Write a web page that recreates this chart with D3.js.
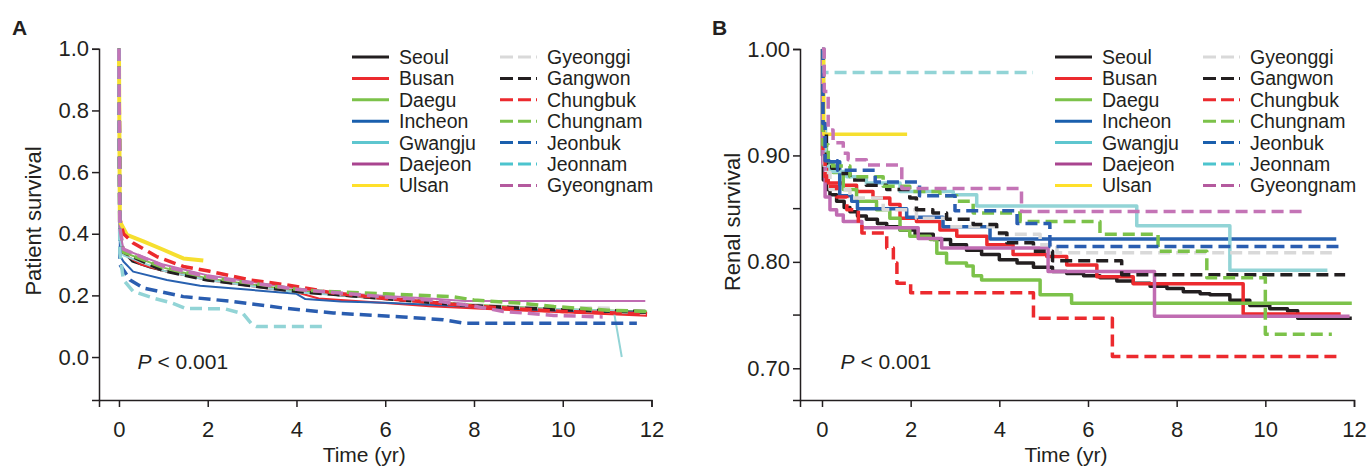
<!DOCTYPE html>
<html><head><meta charset="utf-8">
<script src="https://cdn.jsdelivr.net/npm/d3@7"></script>
<style>
body{margin:0;background:#fff;}
text{font-family:"Liberation Sans",Arial,sans-serif;fill:#231f20;}
</style></head>
<body>
<svg id="chart" width="1370" height="468"></svg>
<script>
// ---------- data ----------
const regions = ["Seoul","Busan","Daegu","Incheon","Gwangju","Daejeon","Ulsan",
                 "Gyeonggi","Gangwon","Chungbuk","Chungnam","Jeonbuk","Jeonnam","Gyeongnam"];
const xTicks = [0,2,4,6,8,10,12];
const yTicksA = [0,0.2,0.4,0.6,0.8,1.0];
const yTicksB = [0.70,0.80,0.90,1.00];
const yMinorB = [0.75,0.85];
const pLabel = "< 0.001";

// Panel A: patient survival [years, survival]
const pSeoul = [[0,1],[0.02,0.40],[0.1,0.34],[0.3,0.31],[0.7,0.29],[1,0.28],[2,0.252],[3,0.232],[4,0.215],[5,0.2],[6,0.188],[7,0.177],[8,0.167],[9,0.159],[10,0.152],[11,0.146],[11.9,0.143]];
const pBusan = [[0,1],[0.02,0.38],[0.1,0.335],[0.5,0.3],[1,0.28],[2,0.25],[3,0.23],[4,0.21],[4.5,0.19],[6,0.175],[7,0.165],[8.3,0.156],[10,0.145],[11.9,0.134]];
const pDaegu = [[0,1],[0.02,0.40],[0.1,0.34],[1,0.29],[2,0.255],[4,0.215],[6,0.19],[8,0.17],[10,0.155],[11.9,0.148]];
const pIncheon = [[0,1],[0.02,0.33],[0.1,0.31],[0.32,0.277],[1.08,0.25],[1.83,0.231],[2.95,0.218],[4,0.205],[4.2,0.188],[5,0.18],[6,0.176],[7,0.17],[8,0.163],[9,0.156],[10,0.15],[11.7,0.147]];
const pGwangju = [[0,1],[0.02,0.38],[0.1,0.33],[1,0.28],[2,0.25],[4,0.21],[6,0.19],[8,0.165],[10,0.155],[11.15,0.15],[11.33,0.0]];
const pDaejeon = [[0,1],[0.02,0.41],[0.1,0.35],[1,0.30],[2,0.265],[4,0.222],[5,0.207],[6,0.198],[7,0.19],[7.8,0.182],[11.86,0.182]];
const pUlsan = [[0,1],[0.02,0.44],[0.18,0.396],[0.55,0.375],[1,0.348],[1.45,0.32],[1.9,0.313]];
const pGyeonggi = [[0,1],[0.02,0.40],[0.1,0.34],[1,0.285],[2,0.255],[4,0.215],[6,0.19],[8,0.17],[9,0.162],[10,0.16],[11.2,0.158]];
const pGangwon = [[0,1],[0.02,0.39],[0.1,0.34],[1,0.28],[2,0.25],[4,0.213],[6,0.19],[8,0.166],[10,0.153],[11.9,0.148]];
const pChungbuk = [[0,1],[0.02,0.45],[0.1,0.40],[0.32,0.37],[0.85,0.326],[1.45,0.294],[2.05,0.278],[2.95,0.25],[3.78,0.234],[4.83,0.208],[6,0.19],[8,0.165],[10,0.148],[11.9,0.14]];
const pChungnam = [[0,1],[0.02,0.40],[0.1,0.34],[1,0.29],[2,0.258],[4,0.22],[4.5,0.214],[6,0.205],[7.5,0.196],[8,0.185],[9,0.175],[9.8,0.164],[11,0.152],[11.9,0.148]];
const pJeonbuk = [[0,1],[0.02,0.30],[0.25,0.25],[0.55,0.224],[1.45,0.196],[2.58,0.18],[3.7,0.159],[4.83,0.143],[5.28,0.139],[6.4,0.13],[7.3,0.121],[7.76,0.11],[11.67,0.11]];
const pJeonnam = [[0,1],[0.02,0.337],[0.1,0.25],[0.32,0.213],[0.8,0.19],[1.2,0.175],[1.5,0.158],[2.4,0.156],[2.8,0.14],[3.0,0.105],[3.1,0.099],[4.65,0.099]];
const pGyeongnam = [[0,1],[0.02,0.42],[0.1,0.35],[1,0.295],[2,0.26],[4,0.22],[6,0.195],[7,0.185],[8,0.165],[8.66,0.148],[9.8,0.135],[10.9,0.13]];

// Panel B: renal survival [years, survival] (steps)
const rSeoul = [[0,1],[0.01,0.9],[0.03,0.877],[0.1,0.868],[0.18,0.863],[0.33,0.857],[0.5,0.851],[0.63,0.847],[0.8,0.843],[1.0,0.840],[1.25,0.836],[1.46,0.833],[1.76,0.830],[2.1,0.826],[2.51,0.821],[2.9,0.816],[3.26,0.811],[3.6,0.807],[4.0,0.802],[4.4,0.799],[4.77,0.795],[5.2,0.791],[5.52,0.789],[5.9,0.787],[6.27,0.785],[6.65,0.782],[7.02,0.780],[7.4,0.777],[7.78,0.775],[8.15,0.772],[8.53,0.770],[8.75,0.769],[9.2,0.764],[9.65,0.759],[10.1,0.756],[10.5,0.754],[10.73,0.747],[11.95,0.747]];
const rBusan = [[0,1],[0.02,0.92],[0.07,0.896],[0.14,0.874],[0.48,0.872],[0.78,0.866],[1.15,0.860],[1.53,0.854],[1.76,0.841],[2.13,0.838],[2.66,0.830],[3.04,0.824],[3.72,0.816],[4.31,0.807],[5.07,0.805],[5.52,0.797],[6.2,0.786],[7.02,0.7795],[9.5,0.751],[11.7,0.751]];
const rDaegu = [[0,1],[0.02,0.91],[0.1,0.893],[0.25,0.884],[0.48,0.868],[0.78,0.857],[1.23,0.849],[1.53,0.841],[1.76,0.830],[1.98,0.824],[2.44,0.821],[2.59,0.808],[2.81,0.799],[3.26,0.796],[3.41,0.787],[3.6,0.783],[4.92,0.769],[5.63,0.761],[11.95,0.761]];
const rIncheon = [[0,1],[0.02,0.92],[0.05,0.894],[0.4,0.862],[0.67,0.857],[0.8,0.85],[1.91,0.842],[2.73,0.833],[3.79,0.8215],[11.6,0.8215]];
const rGwangju = [[0,1],[0.02,0.93],[0.08,0.89],[0.18,0.885],[0.56,0.880],[1.0,0.874],[1.76,0.866],[2.96,0.863],[3.49,0.8526],[7.1,0.834],[9.2,0.792],[11.4,0.792]];
const rDaejeon = [[0,1],[0.02,0.893],[0.07,0.861],[0.18,0.849],[0.33,0.844],[0.48,0.838],[0.9,0.832],[2.17,0.822],[2.7,0.813],[5.1,0.791],[7.5,0.749],[11.9,0.749]];
const rUlsan = [[0,1],[0.04,0.92],[1.92,0.92]];
const rGyeonggi = [[0,1],[0.02,0.9],[0.05,0.884],[0.18,0.868],[0.63,0.860],[1.38,0.849],[2.13,0.841],[2.89,0.833],[4.0,0.826],[4.92,0.816],[5.3,0.8085],[11.5,0.8085]];
const rGangwon = [[0,1],[0.02,0.92],[0.1,0.893],[0.22,0.888],[0.37,0.883],[0.63,0.877],[1.0,0.872],[1.46,0.868],[1.98,0.860],[2.13,0.849],[2.5,0.846],[2.81,0.840],[3.41,0.835],[3.94,0.827],[4.17,0.818],[4.77,0.81],[5.2,0.801],[6.76,0.788],[11.8,0.788]];
const rChungbuk = [[0,1],[0.02,0.9],[0.07,0.88],[0.1,0.871],[0.33,0.861],[0.56,0.849],[0.82,0.836],[0.9,0.827],[1.46,0.813],[1.61,0.799],[1.69,0.780],[2.0,0.771],[4.77,0.747],[6.55,0.711],[11.7,0.711]];
const rChungnam = [[0,1],[0.02,0.91],[0.14,0.890],[0.63,0.880],[1.38,0.871],[1.98,0.866],[2.66,0.862],[3.04,0.857],[3.41,0.846],[4.47,0.838],[6.27,0.826],[7.58,0.81],[8.68,0.785],[10.0,0.732],[11.5,0.732]];
const rJeonbuk = [[0,1],[0.02,0.93],[0.07,0.895],[0.35,0.886],[1.2,0.875],[2.2,0.862],[3.0,0.848],[4.4,0.836],[5.14,0.8144],[11.75,0.8144]];
const rJeonnam = [[0,1],[0.05,0.978],[4.76,0.978]];
const rGyeongnam = [[0,1],[0.05,0.96],[0.14,0.924],[0.25,0.912],[0.48,0.902],[0.59,0.896],[1.0,0.891],[1.8,0.869],[4.5,0.8474],[10.85,0.8474]];

const patientData = [pSeoul,pBusan,pDaegu,pIncheon,pGwangju,pDaejeon,pUlsan,pGyeonggi,pGangwon,pChungbuk,pChungnam,pJeonbuk,pJeonnam,pGyeongnam];
const renalData = [rSeoul,rBusan,rDaegu,rIncheon,rGwangju,rDaejeon,rUlsan,rGyeonggi,rGangwon,rChungbuk,rChungnam,rJeonbuk,rJeonnam,rGyeongnam];

// ---------- styles ----------
const lineColors = ["#231f20","#ec2a2e","#7cc24a","#2861b0","#92d4d6","#c06cb2","#f6df2f",
                    "#d9d9d9","#231f20","#ec2a2e","#7cc24a","#2a5db0","#92d4d6","#c474b6"];
const legendColors = ["#231f20","#ec2a2e","#7cc24a","#1a5fad","#5ec6cf","#a9448f","#ffe02a",
                      "#d9d9d9","#231f20","#ec2a2e","#7cc24a","#1a5fad","#4cc4ce","#b45a9e"];
const dashed = regions.map((_,i)=> i>=7);

const svg = d3.select("#chart");

function panel(cfg){
  const g = svg.append("g");
  const x = d3.scaleLinear().domain(cfg.xDomain).range(cfg.xRange);
  const y = d3.scaleLinear().domain(cfg.yDomain).range(cfg.yRange);

  // axes
  const yAxis = d3.axisLeft(y).tickValues(cfg.yTicks).tickFormat(d3.format(cfg.fmt)).tickSizeOuter(0).tickSize(7).tickPadding(3);
  const ya = g.append("g").attr("transform",`translate(${cfg.xRange[0]},0)`).call(yAxis);
  if(cfg.yMinor){
    ya.selectAll(".minor").data(cfg.yMinor).enter().append("line")
      .attr("x1",0).attr("x2",-7).attr("y1",d=>y(d)).attr("y2",d=>y(d)).attr("stroke","#231f20").attr("stroke-width",1.5);
  }
  const xAxis = d3.axisBottom(x).tickValues(xTicks).tickSizeOuter(0).tickSize(7).tickPadding(14);
  const xa = g.append("g").attr("transform",`translate(0,${cfg.yRange[0]})`).call(xAxis);
  [ya,xa].forEach(a=>{
    a.select(".domain").attr("stroke","#231f20").attr("stroke-width",1.5);
    a.selectAll(".tick line").attr("stroke","#231f20").attr("stroke-width",1.5);
    a.selectAll(".tick text").style("font-size","22px").attr("fill","#231f20");
  });

  // curves
  const line = d3.line().x(d=>x(d[0])).y(d=>y(d[1])).curve(cfg.curve);
  cfg.data.forEach((ds,i)=>{
    g.append("path").datum(ds).attr("d",line).attr("fill","none")
      .attr("stroke",lineColors[i])
      .attr("stroke-width", cfg.widths(i))
      .attr("stroke-dasharray", dashed[i] ? "12,6" : null)
      .attr("stroke-linejoin","round");
  });

  // panel letter
  g.append("text").attr("x",cfg.letterX).attr("y",35).text(cfg.letter)
    .style("font-size","21px").style("font-weight","bold");
  // axis titles
  g.append("text").attr("transform",`translate(${cfg.yTitleX},${cfg.yTitleY}) rotate(-90)`)
    .attr("text-anchor","middle").style("font-size","22px").text(cfg.yTitle);
  g.append("text").attr("x",(cfg.xRange[0]+cfg.xRange[1])/2-11).attr("y",462)
    .attr("text-anchor","middle").style("font-size","21px").text("Time (yr)");
  // p value
  const pt = g.append("text").attr("x",x(cfg.pX)).attr("y",y(cfg.pY)).style("font-size","21px");
  pt.append("tspan").style("font-style","italic").text("P");
  pt.append("tspan").text(" " + pLabel);

  // legend
  const lg = g.append("g");
  regions.forEach((r,i)=>{
    const col = i<7 ? 0 : 1, row = i%7;
    const lx = cfg.legendX + col*148, ly = 57 + row*21.4;
    lg.append("line").attr("x1",lx).attr("x2",lx+37).attr("y1",ly).attr("y2",ly)
      .attr("stroke",legendColors[i]).attr("stroke-width",3)
      .attr("stroke-dasharray", dashed[i] ? "13,5" : null);
    lg.append("text").attr("x",lx+47).attr("y",ly+7).style("font-size",cfg.legendFont).text(r);
  });
}

panel({
  xDomain:[-0.45,12], xRange:[99,651.5],
  yDomain:[-0.1394,1], yRange:[400,48.8],
  yTicks:yTicksA, fmt:".1f", data:patientData, curve:d3.curveLinear,
  widths:i=> i===6 ? 4 : (dashed[i] ? 3.5 : 2),
  letter:"A", letterX:12, yTitle:"Patient survival", yTitleX:41, yTitleY:221,
  pX:0.42, pY:-0.04, legendX:352, legendFont:"19.5px"
});
panel({
  xDomain:[-0.496,12], xRange:[800,1354],
  yDomain:[0.6702,1], yRange:[400,49],
  yTicks:yTicksB, yMinor:yMinorB, fmt:".2f", data:renalData, curve:d3.curveStepAfter,
  widths:i=> 3.5,
  letter:"B", letterX:712, yTitle:"Renal survival", yTitleX:740, yTitleY:222,
  pX:0.42, pY:0.6995, legendX:1055, legendFont:"19.5px"
});
</script>
</body></html>
